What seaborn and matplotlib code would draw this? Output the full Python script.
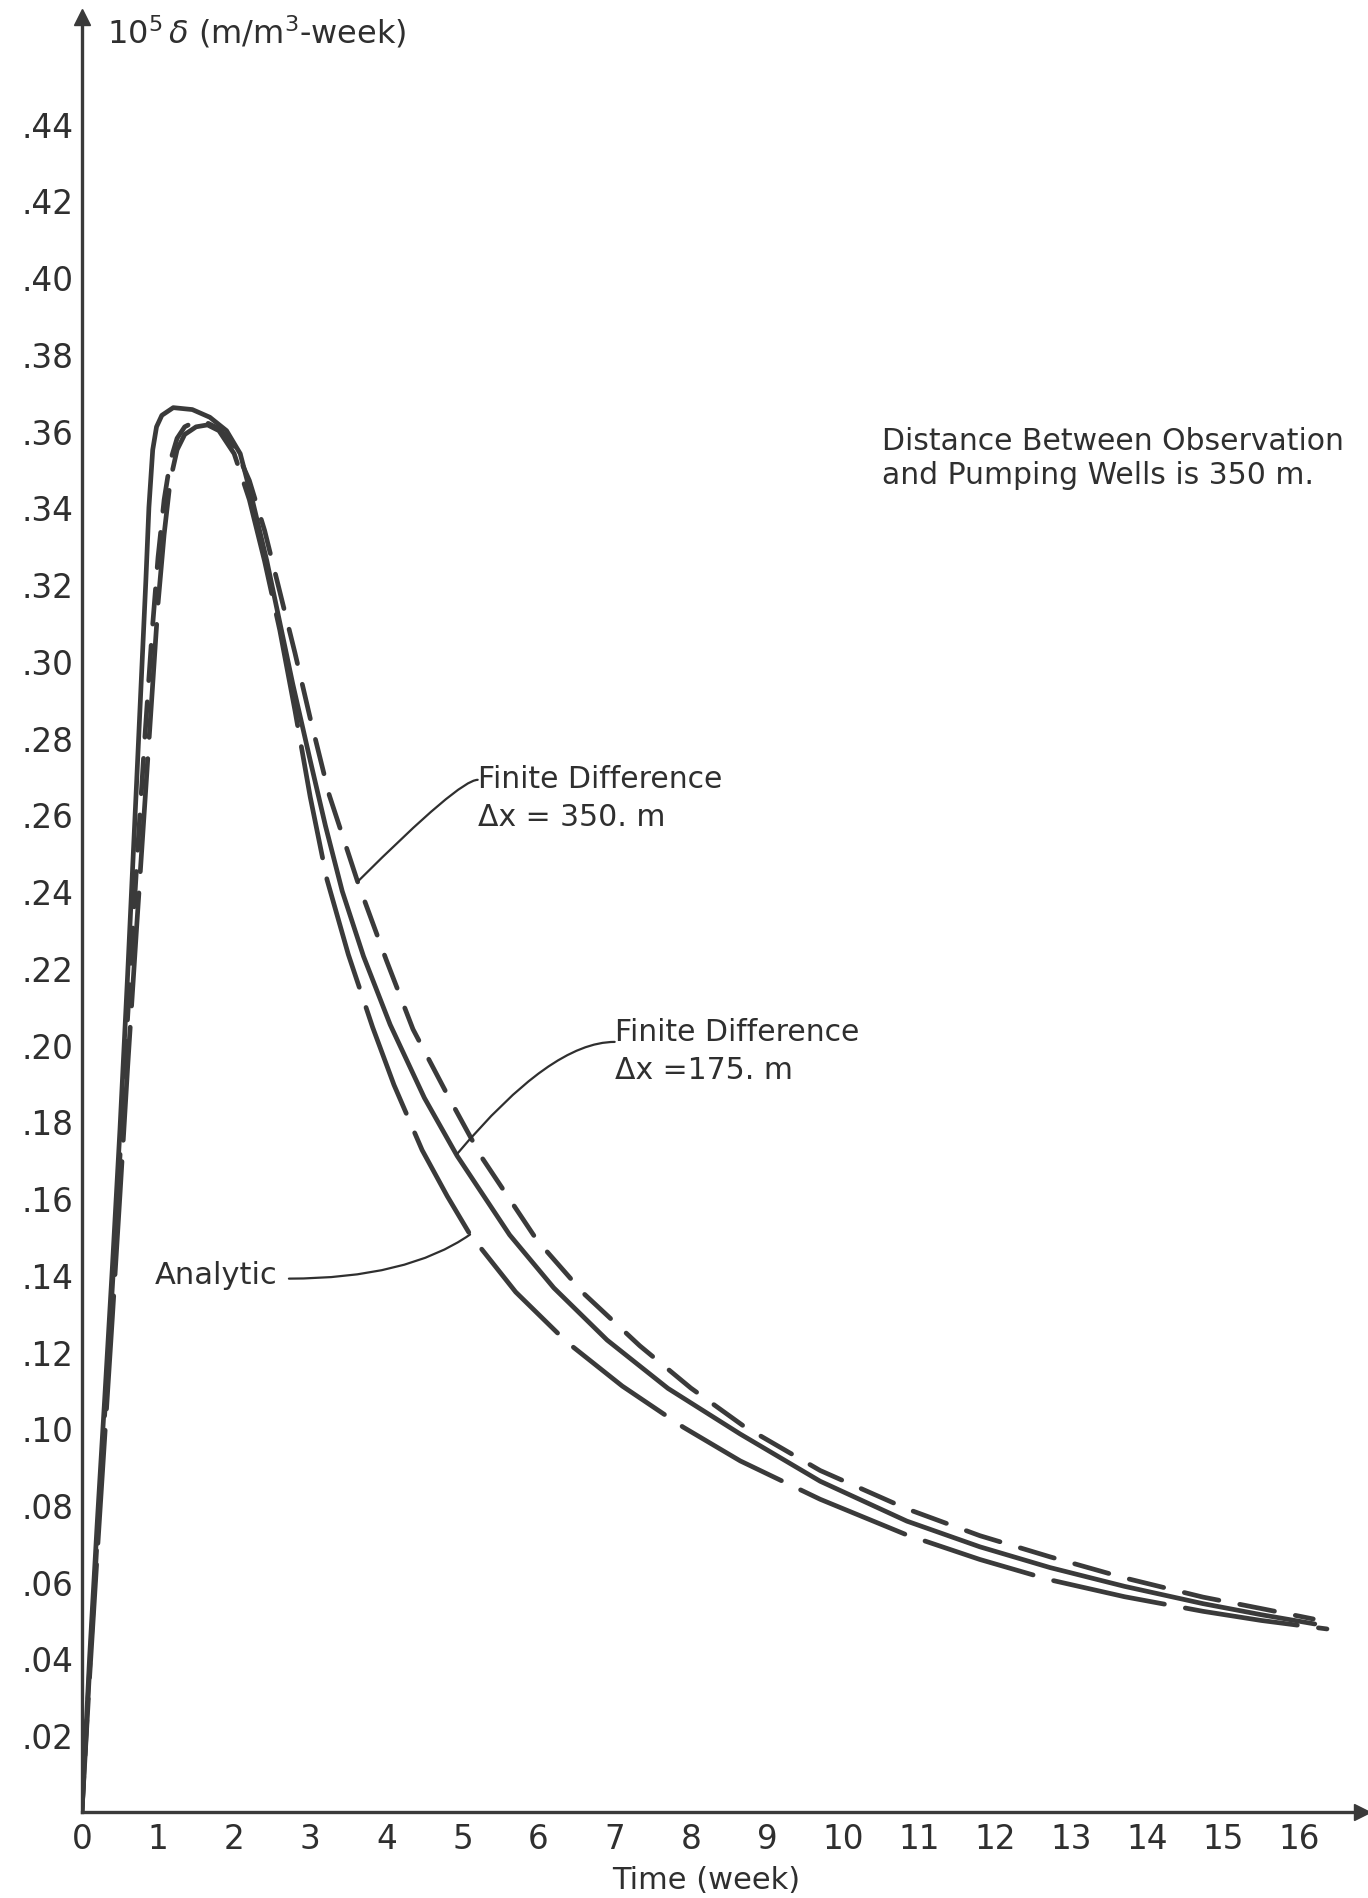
import matplotlib
matplotlib.use("Agg")
import matplotlib.pyplot as plt
import seaborn as sns
import pandas as pd

# ---------------- data ----------------
weeks_fd175 = [0, 0.1, 0.2, 0.3, 0.4, 0.5, 0.6, 0.72, 0.84, 0.88, 0.93, 0.98, 1.05, 1.2,
               1.45, 1.68, 1.9, 2.08, 2.25, 2.43, 2.6, 2.77, 3.0, 3.2, 3.42, 3.7, 4.05,
               4.5, 4.93, 5.62, 6.2, 6.9, 7.7, 8.65, 9.7, 10.84, 11.8, 12.72, 13.7,
               14.73, 15.5, 16.2]
delta_fd175 = [0, 0.040, 0.075, 0.108, 0.142, 0.178, 0.218, 0.269, 0.321, 0.340, 0.355,
               0.361, 0.364, 0.366, 0.3655, 0.3635, 0.360, 0.354, 0.341, 0.326, 0.310,
               0.294, 0.274, 0.257, 0.240, 0.223, 0.2052, 0.1861, 0.171, 0.1504,
               0.1366, 0.123, 0.1104, 0.0985, 0.0862, 0.0758, 0.0691, 0.0637, 0.0588,
               0.0543, 0.0514, 0.049]

weeks_analytic = [0, 0.1, 0.2, 0.3, 0.4, 0.5, 0.6, 0.72, 0.83, 0.92, 1.0, 1.08, 1.16,
                  1.25, 1.35, 1.5, 1.65, 1.8, 2.0, 2.2, 2.4, 2.6, 2.8, 3.0, 3.22, 3.5,
                  3.82, 4.1, 4.47, 4.8, 5.1, 5.7, 6.37, 7.1, 7.9, 8.65, 9.7, 10.84,
                  11.8, 12.72, 13.7, 14.73, 15.5, 16.36]
delta_analytic = [0, 0.035, 0.067, 0.098, 0.129, 0.161, 0.194, 0.231, 0.264, 0.291,
                  0.315, 0.333, 0.347, 0.355, 0.359, 0.361, 0.3615, 0.360, 0.354,
                  0.342, 0.326, 0.308, 0.287, 0.2645, 0.243, 0.2235, 0.2045, 0.1895,
                  0.1725, 0.1605, 0.1505, 0.1355, 0.1225, 0.111, 0.1003, 0.0915,
                  0.0815, 0.0722, 0.0658, 0.0605, 0.0561, 0.0523, 0.0499, 0.0477]

weeks_fd350 = [0, 0.1, 0.2, 0.3, 0.4, 0.5, 0.6, 0.72, 0.83, 0.92, 1.0, 1.08, 1.16,
               1.25, 1.35, 1.5, 1.65, 1.8, 2.0, 2.2, 2.4, 2.6, 2.8, 3.0, 3.25, 3.63,
               4.0, 4.35, 4.8, 5.24, 5.98, 6.6, 7.33, 8.0, 8.7, 9.7, 10.84, 11.8,
               12.72, 13.7, 14.73, 15.5, 16.18]
delta_fd350 = [0, 0.037, 0.071, 0.104, 0.137, 0.171, 0.207, 0.247, 0.281, 0.307,
               0.327, 0.342, 0.352, 0.358, 0.361, 0.3625, 0.362, 0.3605, 0.356,
               0.347, 0.334, 0.318, 0.302, 0.285, 0.265, 0.242, 0.222, 0.204, 0.187,
               0.171, 0.149, 0.135, 0.1215, 0.1105, 0.1005, 0.089, 0.079, 0.072,
               0.0665, 0.061, 0.056, 0.053, 0.0503]

x_ticks = list(range(0, 17))
y_ticks = [0.02, 0.04, 0.06, 0.08, 0.10, 0.12, 0.14, 0.16, 0.18, 0.20, 0.22, 0.24,
           0.26, 0.28, 0.30, 0.32, 0.34, 0.36, 0.38, 0.40, 0.42, 0.44]
y_tick_labels = ["." + f"{int(round(v * 100)):02d}" for v in y_ticks]

# ---------------- styling ----------------
sns.set_style("white")
plt.rcParams["font.family"] = ["DejaVu Sans"]
plt.rcParams["mathtext.fontset"] = "dejavusans"

INK = "#3a3a3a"
TXT = "#2f2f2f"

fig = plt.figure(figsize=(13.68, 18.99), dpi=100)
ax = fig.add_axes([0.0599, 0.0453, 0.9357, 0.9452])

df_s = pd.DataFrame({"week": weeks_fd175, "delta": delta_fd175})
df_a = pd.DataFrame({"week": weeks_analytic, "delta": delta_analytic})
df_d = pd.DataFrame({"week": weeks_fd350, "delta": delta_fd350})

LW = 3.4
sns.lineplot(data=df_a, x="week", y="delta", ax=ax, color=INK, linewidth=LW,
             sort=False, estimator=None)
ax.lines[-1].set_dashes((24, 4.5))
ax.lines[-1].set_dash_capstyle("round")
sns.lineplot(data=df_d, x="week", y="delta", ax=ax, color=INK, linewidth=LW,
             sort=False, estimator=None)
ax.lines[-1].set_dashes((7.5, 4.5))
ax.lines[-1].set_dash_capstyle("round")
sns.lineplot(data=df_s, x="week", y="delta", ax=ax, color=INK, linewidth=LW,
             sort=False, estimator=None)

ax.set_xlim(0, 16.82)
ax.set_ylim(0, 0.4678)

for side in ["top", "right"]:
    ax.spines[side].set_visible(False)
for side in ["left", "bottom"]:
    ax.spines[side].set_color(INK)
    ax.spines[side].set_linewidth(2.4)

ax.set_xticks(x_ticks)
ax.set_xticklabels([str(t) for t in x_ticks])
ax.set_yticks(y_ticks)
ax.set_yticklabels(y_tick_labels)
ax.tick_params(axis="both", direction="in", length=8, width=1.6, color=INK,
               labelcolor=TXT, labelsize=23.5)
ax.tick_params(axis="x", pad=7)
ax.tick_params(axis="y", pad=6)
ax.set_xlabel("")
ax.set_ylabel("")

# axis arrows
ax.plot([1], [0], marker=">", markersize=12, color=INK, transform=ax.transAxes,
        clip_on=False)
ax.plot([0], [1], marker="^", markersize=11, color=INK, transform=ax.transAxes,
        clip_on=False)

# axis titles
ax.text(0.33, 0.464, r"$10^5\,\delta$ (m/m$^3$-week)", fontsize=23, color=TXT,
        ha="left", va="center")
fig.text(0.516, 0.0095, "Time (week)", fontsize=22, color=TXT, ha="center",
         va="center")

# annotations
ax.text(10.51, 0.353, "Distance Between Observation\nand Pumping Wells is 350 m.",
        fontsize=21.5, color=TXT, ha="left", va="center", linespacing=1.2)
ax.text(5.2, 0.2643, "Finite Difference\n\u0394x = 350. m", fontsize=21.5, color=TXT,
        ha="left", va="center", linespacing=1.4)
ax.text(7.0, 0.1985, "Finite Difference\n\u0394x =175. m", fontsize=21.5, color=TXT,
        ha="left", va="center", linespacing=1.4)
ax.text(0.96, 0.140, "Analytic", fontsize=22, color=TXT, ha="left", va="center")

lead = dict(arrowstyle="-", color=TXT, linewidth=1.6, shrinkA=0, shrinkB=0)
ax.annotate("", xy=(3.63, 0.2426), xytext=(5.20, 0.269),
            arrowprops=dict(lead, connectionstyle="angle3,angleA=0,angleB=45"))
ax.annotate("", xy=(4.93, 0.1715), xytext=(7.0, 0.2007),
            arrowprops=dict(lead, connectionstyle="angle3,angleA=0,angleB=50"))
ax.annotate("", xy=(5.10, 0.1505), xytext=(2.72, 0.139),
            arrowprops=dict(lead, connectionstyle="angle3,angleA=0,angleB=35"))

fig.savefig("out.png", dpi=100, facecolor="white")
